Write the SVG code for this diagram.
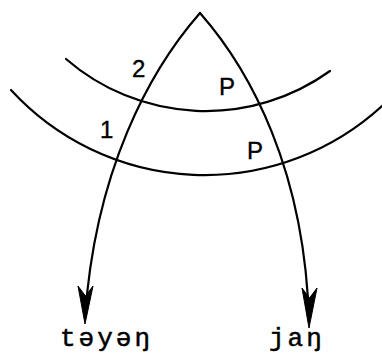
<svg xmlns="http://www.w3.org/2000/svg" width="382" height="354" viewBox="0 0 382 354">
<style>
.ln{fill:none;stroke:#000;stroke-width:2.2;stroke-linecap:round}
.hd{fill:#000;stroke:#000;stroke-width:1;stroke-linejoin:miter}
.lb{font-family:"Liberation Sans",Arial,sans-serif;font-size:24px;fill:#000;stroke:#000;stroke-width:0.4}
.wd{font-family:"Liberation Mono","Courier New",monospace;font-size:26px;letter-spacing:3px;fill:#000;stroke:#000;stroke-width:0.5}
</style>
<rect width="382" height="354" fill="#fff"/>
<g id="arcs">
<path id="arc-upper" class="ln" d="M66 59 A213.3 213.3 0 0 0 330 71"/>
<path id="arc-lower" class="ln" d="M11 90 A262.7 262.7 0 0 0 382 106"/>
</g>
<g id="connectors">
<path class="ln" d="M200 13 C150 70 95 170 85 318"/>
<path class="hd" d="M85 324 L78 286 L85.5 296 L93 286 Z"/>
<path class="ln" d="M200 13 C250 70 305 170 309 322"/>
<path class="hd" d="M309 328 L302 288 L309.5 298 L317 288 Z"/>
</g>
<g id="labels">
<text class="lb" x="132" y="77">2</text>
<text class="lb" x="219" y="95">P</text>
<text class="lb" x="100" y="138">1</text>
<text class="lb" x="247" y="159">P</text>
</g>
<g id="node-tayan"><text class="wd" x="60" y="346">təyəŋ</text></g>
<g id="node-jan"><text class="wd" x="269" y="346">jaŋ</text></g>
</svg>
